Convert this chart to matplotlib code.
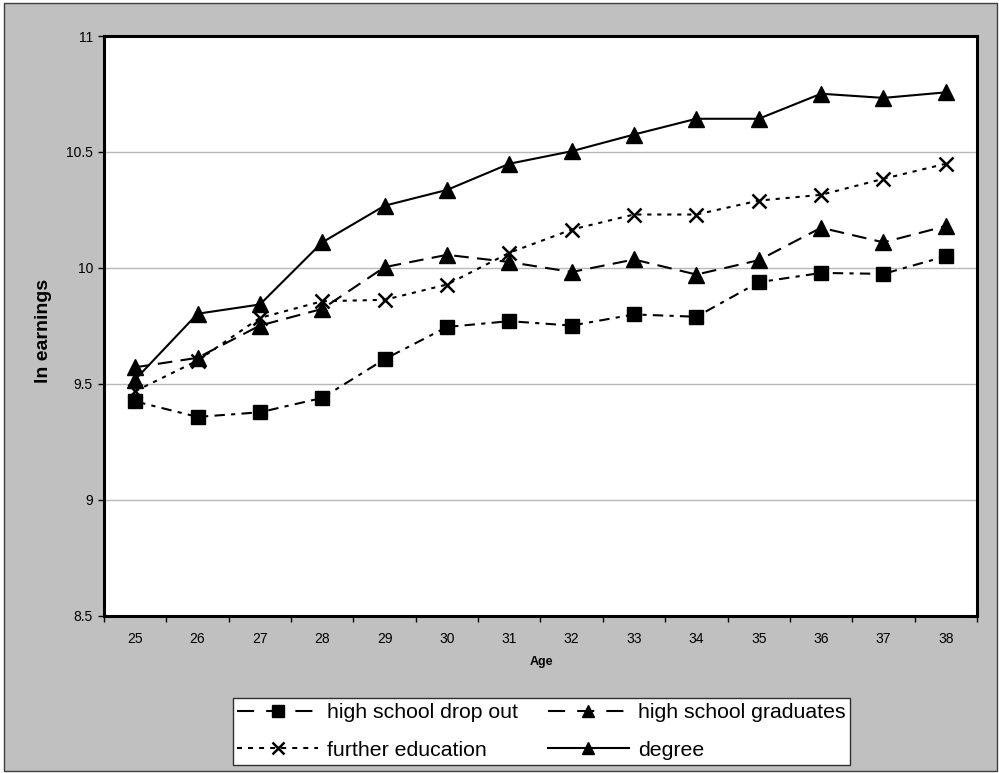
import matplotlib
matplotlib.use("Agg")
import matplotlib.pyplot as plt
from matplotlib.lines import Line2D
from matplotlib.patches import Rectangle

plt.rcParams['font.family'] = ['Liberation Sans', 'DejaVu Sans']

ages = [25, 26, 27, 28, 29, 30, 31, 32, 33, 34, 35, 36, 37, 38]

drop_out = [9.424, 9.357, 9.377, 9.439, 9.606, 9.745, 9.770, 9.751, 9.799, 9.789,
            9.938, 9.978, 9.974, 10.050]
hs_graduates = [9.571, 9.612, 9.751, 9.823, 10.003, 10.056, 10.025, 9.982, 10.036, 9.971,
                10.033, 10.173, 10.110, 10.180]
further_ed = [9.468, 9.600, 9.784, 9.856, 9.862, 9.928, 10.065, 10.165, 10.230, 10.230,
              10.290, 10.315, 10.384, 10.449]
degree = [9.518, 9.802, 9.842, 10.110, 10.268, 10.336, 10.449, 10.503, 10.575, 10.643,
          10.643, 10.751, 10.733, 10.757]

labels = ["high school drop out", "high school graduates", "further education", "degree"]

W, H = 999, 773
fig = plt.figure(figsize=(W / 100, H / 100), dpi=100, facecolor="white")

# grey chart area with a thin dark frame, kept behind the axes
fig.patches.append(Rectangle((4 / W, 2 / H), 993 / W, 768 / H, transform=fig.transFigure,
                             facecolor="#C0C0C0", edgecolor="#404040", linewidth=1.0,
                             zorder=-10))

ax = fig.add_axes([104 / W, (H - 615.6) / H, 873 / W, 579.6 / H])
ax.set_facecolor("white")

x = list(range(len(ages)))
lw = 1.5
ax.plot(x, drop_out, color="black", lw=lw, linestyle=(0, (5, 3, 2, 3)),
        marker="s", markersize=10, zorder=3)
ax.plot(x, hs_graduates, color="black", lw=lw, linestyle=(0, (7, 4)),
        marker="^", markersize=11, zorder=3)
ax.plot(x, further_ed, color="black", lw=lw, linestyle=(0, (2, 2.8)),
        marker="x", markersize=10, markeredgewidth=1.8, zorder=3)
ax.plot(x, degree, color="black", lw=lw, linestyle="-",
        marker="^", markersize=11, zorder=3)

ax.set_xlim(-0.5, len(ages) - 0.5)
ax.set_ylim(8.5, 11)
ax.set_yticks([8.5, 9, 9.5, 10, 10.5, 11])
ax.set_yticklabels(["8.5", "9", "9.5", "10", "10.5", "11"])
ax.yaxis.grid(True, color="#B8B8B8", linewidth=1.0)
ax.set_axisbelow(True)

ax.set_xticks(x)
ax.set_xticklabels([str(a) for a in ages])
ax.set_xticks([i - 0.5 for i in range(len(ages) + 1)], minor=True)
ax.tick_params(axis="x", which="major", length=0, pad=12, labelsize=10)
ax.tick_params(axis="x", which="minor", length=4, width=1, direction="out")
ax.tick_params(axis="y", which="major", length=4, width=1, direction="out",
               pad=4, labelsize=10)

for s in ax.spines.values():
    s.set_linewidth(2.2)
    s.set_color("black")

fig.text(43 / W, 1 - 330.7 / H, "ln earnings", rotation=90, ha="center", va="center",
         fontsize=14, fontweight="bold")
fig.text(541 / W, 1 - 662 / H, "Age", ha="center", va="center",
         fontsize=9, fontweight="bold")

handles = [
    Line2D([], [], color="black", lw=lw, linestyle=(0, (8.2, 5.8)), marker="s", markersize=9),
    Line2D([], [], color="black", lw=lw, linestyle=(0, (2.4, 2.9)), marker="x",
           markersize=9, markeredgewidth=1.8),
    Line2D([], [], color="black", lw=lw, linestyle=(0, (8.2, 5.8)), marker="^", markersize=9),
    Line2D([], [], color="black", lw=lw, linestyle="-", marker="^", markersize=9),
]
leg_labels = [labels[0], labels[2], labels[1], labels[3]]
leg = fig.legend(handles, leg_labels, loc="center", ncol=2,
                 bbox_to_anchor=(541.5 / W, 1 - 731.5 / H),
                 fontsize=15.3, handlelength=3.8, handletextpad=0.43,
                 columnspacing=1.4, labelspacing=0.88, borderpad=0.22,
                 borderaxespad=0, frameon=True, fancybox=False, edgecolor="#303030",
                 facecolor="white", framealpha=1)
leg.get_frame().set_linewidth(1.0)

fig.savefig("out.png", dpi=100, facecolor=fig.get_facecolor())
